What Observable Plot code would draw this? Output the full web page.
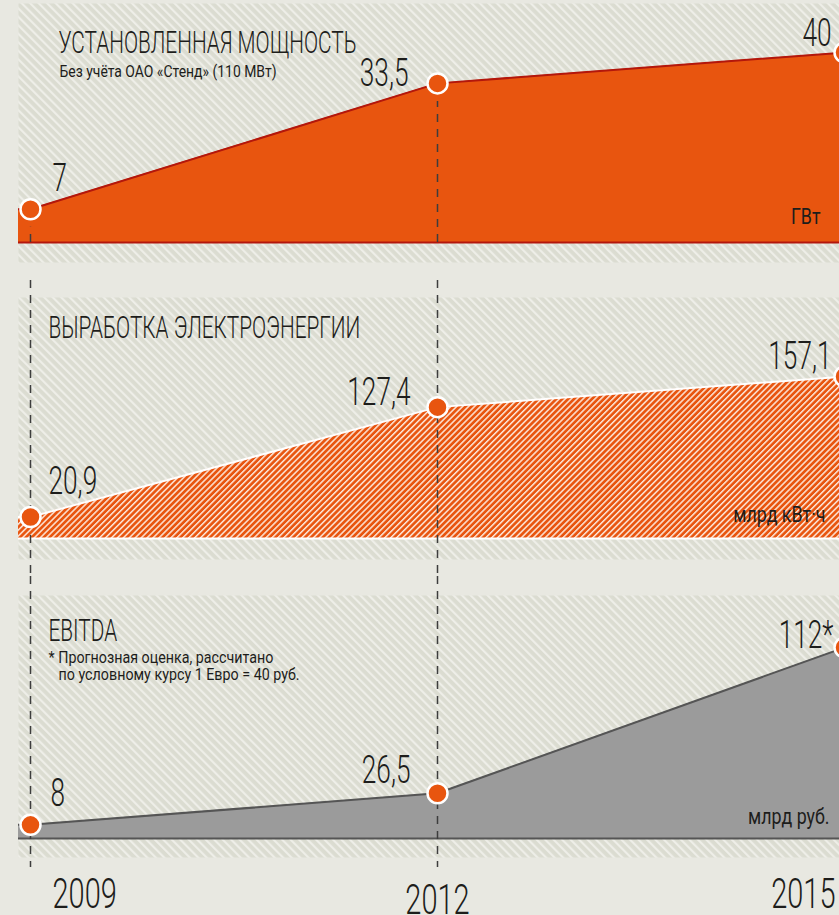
<!DOCTYPE html>
<html><head><meta charset="utf-8">
<script src="https://cdn.jsdelivr.net/npm/d3@7"></script>
<script src="https://cdn.jsdelivr.net/npm/@observablehq/plot@0.6"></script>
<style>
body{margin:0;background:#e8e8e1;}
#chart{position:relative;width:839px;height:915px;overflow:hidden;background:#e8e8e1;font-family:Roboto,sans-serif;}
#chart svg{display:block;}
</style></head><body>
<svg width="0" height="0" style="position:absolute">
<defs>
<pattern id="bgHatch" patternUnits="userSpaceOnUse" width="6" height="6" patternTransform="rotate(-45)">
<rect width="6" height="6" fill="#dbdcd1"/><rect width="2.2" height="6" fill="#eeeee8"/>
</pattern>
<pattern id="orangeHatch" patternUnits="userSpaceOnUse" width="4.2" height="4.2" patternTransform="rotate(45)">
<rect width="4.2" height="4.2" fill="#e8550f"/><rect width="1.5" height="4.2" fill="#fde6d8"/>
</pattern>
</defs></svg>
<div id="chart"></div>
<script>
// ---- data ----
const years = [2009, 2012, 2015];
const yearLabels = ["2009", "2012", "2015"];
const capacity = [7, 33.5, 40];
const capacityLabels = ["7", "33,5", "40"];
const generation = [20.9, 127.4, 157.1];
const generationLabels = ["20,9", "127,4", "157,1"];
const ebitda = [8, 26.5, 112];
const ebitdaLabels = ["8", "26,5", "112*"];
const titles = ["УСТАНОВЛЕННАЯ МОЩНОСТЬ", "ВЫРАБОТКА ЭЛЕКТРОЭНЕРГИИ", "EBITDA"];
const subtitle1 = "Без учёта ОАО «Стенд» (110 МВт)";
const note3 = ["* Прогнозная оценка, рассчитано", "по условному курсу 1 Евро = 40 руб."];
const units = ["ГВт", "млрд кВт·ч", "млрд руб."];

// ---- style ----
const ORANGE = "#e8550f", DARK_RED = "#b3170c", TEXT = "#1d1d1b", DASH = "#3d3d3d";
const W = 839;

function rows(values, labels) { return years.map((y, i) => ({year: y, value: values[i], label: labels[i]})); }
function padded(rs) { return [{year: rs[0].year - 1, value: rs[0].value}, ...rs]; }
function valueLabels(rs, offs) {
  return rs.map((r, i) => Plot.text([r], {x: "year", y: "value", text: "label",
    textAnchor: i === 0 ? "start" : "end", lineAnchor: "bottom",
    dx: offs[i][0], dy: offs[i][1], fontSize: 38, fontWeight: 300, fill: TEXT, className: "cond-val"}));
}
function label(str, anchor, dx, dy, size, cls, lineAnchor) {
  return Plot.text([str], {text: d => d, frameAnchor: anchor, lineAnchor: lineAnchor || "top",
    textAnchor: anchor.endsWith("right") ? "end" : "start", dx, dy, fontSize: size,
    fontWeight: size > 25 ? 300 : 400, fill: TEXT, className: cls});
}
const common = {width: W, marginLeft: 18, marginRight: 0,
  style: {background: "transparent", overflow: "hidden", fontFamily: "Roboto, sans-serif"}};
const xScale = {domain: [years[0], years[years.length - 1]], range: [30, 844], axis: null};

// Panel 1
const d1 = rows(capacity, capacityLabels);
const p1 = Plot.plot({...common, height: 280, marginTop: 3, marginBottom: 18,
  x: xScale, y: {domain: [0, d3.max(capacity)], range: [242, 52], axis: null},
  marks: [
    Plot.frame({fill: "url(#bgHatch)", stroke: "none"}),
    Plot.areaY(padded(d1), {x: "year", y: "value", fill: ORANGE, clip: "frame"}),
    Plot.lineY(padded(d1), {x: "year", y: "value", stroke: DARK_RED, strokeWidth: 2, clip: "frame"}),
    Plot.ruleY([0], {stroke: DARK_RED, strokeWidth: 2}),
    Plot.ruleX(d1.slice(0, 2), {x: "year", y1: "value", insetBottom: -18, stroke: DASH, strokeWidth: 1.5, strokeDasharray: "8,7"}),
    Plot.dot(d1, {x: "year", y: "value", r: 10, fill: ORANGE, stroke: "white", strokeWidth: 2.5}),
    ...valueLabels(d1, [[22, -18], [-29, 3], [-13, -7]]),
    label(titles[0], "top-left", 40, 27, 32, "cond-title"),
    label(subtitle1, "top-left", 41, 61, 17, "cond-sub"),
    label(units[0], "bottom-right", -19, -39, 22, "cond-unit", "bottom")
  ]});

// Panel 2
const d2 = rows(generation, generationLabels);
const p2 = Plot.plot({...common, height: 296, marginTop: 17, marginBottom: 17,
  x: xScale, y: {domain: [0, d3.max(generation)], range: [258, 96], axis: null},
  marks: [
    Plot.frame({fill: "url(#bgHatch)", stroke: "none"}),
    Plot.areaY(padded(d2), {x: "year", y: "value", fill: "url(#orangeHatch)", clip: "frame"}),
    Plot.lineY(padded(d2), {x: "year", y: "value", stroke: "white", strokeWidth: 2, clip: "frame"}),
    Plot.ruleY([0], {stroke: "white", strokeWidth: 2}),
    Plot.ruleX(d2.slice(0, 2), {x: "year", insetTop: -17, insetBottom: -17, stroke: DASH, strokeWidth: 1.5, strokeDasharray: "8,7"}),
    Plot.dot(d2, {x: "year", y: "value", r: 10, fill: ORANGE, stroke: "white", strokeWidth: 2.5}),
    ...valueLabels(d2, [[18, -23], [-27, -2], [-13, -8]]),
    label(titles[1], "top-left", 30, 18, 32, "cond-title"),
    label(units[1], "bottom-right", -14, -38, 22, "cond-unit", "bottom")
  ]});

// Panel 3
const d3rows = rows(ebitda, ebitdaLabels);
const yl = years.map((y, i) => ({year: y, label: yearLabels[i]}));
const yearText = (d, anchor, dx, dy) => Plot.text([d], {x: "year", text: "label", frameAnchor: "bottom",
  lineAnchor: "bottom", textAnchor: anchor, dx, dy, fontSize: 42, fontWeight: 300, fill: TEXT, className: "cond-val"});
const p3 = Plot.plot({...common, height: 339, marginTop: 19, marginBottom: 58,
  x: xScale, y: {domain: [0, d3.max(ebitda)], range: [262, 71], axis: null},
  marks: [
    Plot.frame({fill: "url(#bgHatch)", stroke: "none"}),
    Plot.areaY(padded(d3rows), {x: "year", y: "value", fill: "#9b9b9b", clip: "frame"}),
    Plot.lineY(padded(d3rows), {x: "year", y: "value", stroke: "#555", strokeWidth: 2, clip: "frame"}),
    Plot.ruleY([0], {stroke: "#555", strokeWidth: 2}),
    Plot.ruleX(d3rows.slice(0, 2), {x: "year", insetTop: -19, insetBottom: -10, stroke: DASH, strokeWidth: 1.5, strokeDasharray: "8,7"}),
    Plot.dot(d3rows, {x: "year", y: "value", r: 10, fill: ORANGE, stroke: "white", strokeWidth: 2.5}),
    ...valueLabels(d3rows, [[20, -19], [-27, -10], [-11, 0]]),
    label(titles[2], "top-left", 30, 23, 32, "cond-title"),
    label(note3[0], "top-left", 30, 55, 17, "cond-note"),
    label(note3[1], "top-left", 40, 72, 17, "cond-note"),
    label(units[2], "bottom-right", -10, -34, 22, "cond-unit", "bottom"),
    yearText(yl[0], "start", 22, 50),
    yearText(yl[1], "middle", 0, 56),
    yearText(yl[2], "end", -9, 50)
  ]});

const chart = document.getElementById("chart");
[p1, p2, p3].forEach(p => chart.appendChild(p));

// condensed lettering (the original uses a condensed face)
const factors = {"cond-val": 0.69, "cond-title": 0.65, "cond-sub": 0.82, "cond-note": 0.84, "cond-unit": 0.81};
Object.entries(factors).forEach(([cls, f]) => {
  chart.querySelectorAll("." + cls + " text").forEach(t => {
    const L = t.getComputedTextLength();
    if (L > 0) {
      t.setAttribute("textLength", (L * f).toFixed(1));
      t.setAttribute("lengthAdjust", "spacingAndGlyphs");
    }
  });
});
</script>
</body></html>
